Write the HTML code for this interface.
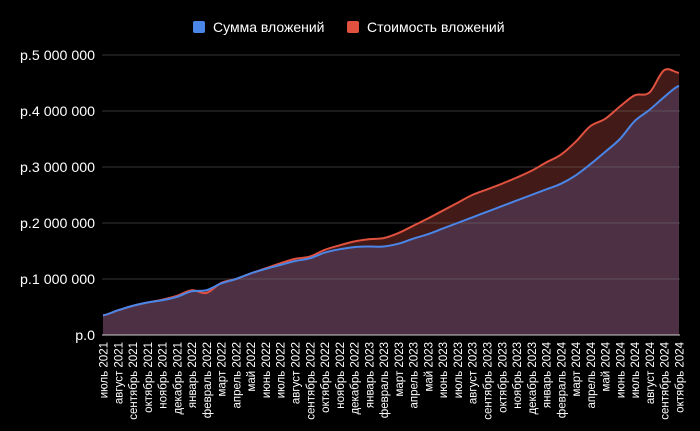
<!DOCTYPE html>
<html><head><meta charset="utf-8"><style>
html,body{margin:0;padding:0;background:#000;width:700px;height:431px;overflow:hidden}
text{font-family:"Liberation Sans",Arial,sans-serif;fill:#fff}
</style></head><body>
<svg id="s" width="700" height="431" xmlns="http://www.w3.org/2000/svg">
<rect width="700" height="431" fill="#000"/>
<rect x="193" y="21" width="12" height="12" rx="2" fill="#4a86e8"/>
<text x="213" y="32" font-size="14">Сумма вложений</text>
<rect x="347" y="21" width="12" height="12" rx="2" fill="#e0513f"/>
<text x="367" y="32" font-size="14">Стоимость вложений</text>
<g id="g"></g>
</svg>
<script>
const red=[0.35,0.44,0.52,0.58,0.63,0.70,0.80,0.75,0.93,1.0,1.1,1.19,1.28,1.36,1.40,1.52,1.60,1.67,1.71,1.73,1.82,1.95,2.08,2.22,2.36,2.50,2.60,2.70,2.81,2.93,3.08,3.22,3.45,3.73,3.86,4.08,4.28,4.33,4.73,4.68];
const blue=[0.35,0.44,0.52,0.58,0.62,0.68,0.78,0.80,0.92,1.0,1.1,1.18,1.25,1.32,1.37,1.47,1.53,1.57,1.58,1.58,1.63,1.72,1.80,1.90,2.00,2.10,2.20,2.30,2.40,2.50,2.60,2.70,2.85,3.05,3.27,3.50,3.82,4.02,4.25,4.45];
const months=["январь","февраль","март","апрель","май","июнь","июль","август","сентябрь","октябрь","ноябрь","декабрь"];
const x0=103,x1=679,y0=335,py=56,n=40,st=(x1-x0)/(n-1);
const X=i=>x0+i*st,Y=v=>y0-v*py;
function path(d){let p=`M${X(0)},${Y(d[0])}`;for(let i=0;i<n-1;i++){const a=d[Math.max(i-1,0)],b=d[i],c=d[i+1],e=d[Math.min(i+2,n-1)];
const c1x=X(i)+st/3,c1y=Y(b+(c-a)/6),c2x=X(i+1)-st/3,c2y=Y(c-(e-b)/6);p+=` C${c1x},${c1y} ${c2x},${c2y} ${X(i+1)},${Y(c)}`}return p}
let h='';
const close=` L${X(n-1)},${y0} L${X(0)},${y0} Z`;
h+=`<path d="${path(red)+close}" fill="#421a17"/>`;
h+=`<path d="${path(blue)+close}" fill="#4e3045"/>`;
for(let k=1;k<=5;k++)h+=`<line x1="102" x2="680" y1="${Y(k)}" y2="${Y(k)}" stroke="#777" stroke-opacity="0.45" stroke-width="1"/>`;
h+=`<line x1="102" x2="680" y1="${y0}" y2="${y0}" stroke="#ccc" stroke-width="1"/>`;
h+=`<path d="${path(red)}" fill="none" stroke="#e0513f" stroke-width="2"/>`;
h+=`<path d="${path(blue)}" fill="none" stroke="#4a86e8" stroke-width="2"/>`;
const yl=["р.0","р.1 000 000","р.2 000 000","р.3 000 000","р.4 000 000","р.5 000 000"];
for(let k=0;k<=5;k++)h+=`<text x="95" y="${Y(k)+5}" font-size="14.2" text-anchor="end">${yl[k]}</text>`;
for(let i=0;i<n;i++){const m=(6+i)%12,yr=2021+Math.floor((6+i)/12);
h+=`<text transform="translate(${X(i)+4.5},342) rotate(-90)" font-size="11.5" text-anchor="end">${months[m]} ${yr}</text>`}
document.getElementById('g').innerHTML=h;
</script>
</body></html>
